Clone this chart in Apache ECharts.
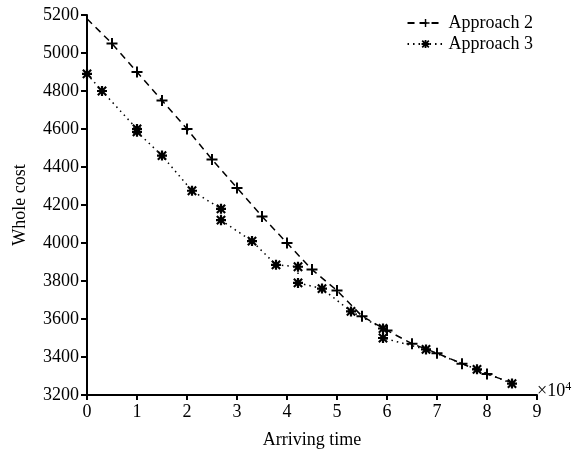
<!DOCTYPE html>
<html>
<head>
<meta charset="utf-8">
<script src="https://cdn.jsdelivr.net/npm/echarts@6/dist/echarts.min.js"></script>
<style>
  html, body { margin: 0; padding: 0; background: #fff; }
  #chart { width: 574px; height: 455px; }
</style>
</head>
<body>
<div id="chart"></div>
<script>
// arriving time in units of 1e4
const approach2X = [0, 0.5, 1.0, 1.5, 2.0, 2.5, 3.0, 3.5, 4.0, 4.5, 5.0, 5.5, 6.0, 6.5, 7.0, 7.5, 8.0, 8.5];
const approach2Y = [5180, 5050, 4900, 4750, 4600, 4440, 4290, 4140, 4000, 3860, 3750, 3615, 3540, 3470, 3420, 3365, 3310, 3265];
const approach3X = [0, 0.3, 1.0, 1.0, 1.5, 2.1, 2.68, 2.68, 3.3, 3.78, 4.22, 4.22, 4.7, 5.28, 5.92, 5.92, 6.78, 7.8, 8.5];
const approach3Y = [4890, 4800, 4600, 4585, 4460, 4275, 4180, 4120, 4010, 3885, 3875, 3790, 3760, 3640, 3550, 3500, 3440, 3335, 3260];
const approach2Show = [false, true, true, true, true, true, true, true, true, true, true, true, true, true, true, true, true, false];

const xTicks = [0, 1, 2, 3, 4, 5, 6, 7, 8, 9];
const yTicks = [3200, 3400, 3600, 3800, 4000, 4200, 4400, 4600, 4800, 5000, 5200];

const PLUS = "path://M4.1,0h1.8v4.1h4.1v1.8h-4.1v4.1h-1.8v-4.1h-4.1v-1.8h4.1z";
// asterisk: four thick bars plus a solid centre
const STAR =
  "path://M3.9,0h2.2v10h-2.2zM0,3.9h10v2.2h-10zM1.6,0.1L9.9,8.4L8.4,9.9L0.1,1.6zM8.4,0.1L9.9,1.6L1.6,9.9L0.1,8.4zM2.8,2.8h4.4v4.4h-4.4z";

const FONT = "Liberation Serif";

const chart = echarts.init(document.getElementById("chart"), null, { renderer: "canvas" });

chart.setOption({
  animation: false,
  backgroundColor: "#fff",
  textStyle: { fontFamily: FONT, color: "#000" },
  grid: { left: 87, right: 37, top: 15, bottom: 60 },
  legend: {
    orient: "vertical",
    right: 36,
    top: 9,
    itemGap: 3,
    itemWidth: 36,
    itemHeight: 10,
    textStyle: { fontFamily: FONT, fontSize: 18, color: "#000" },
    data: ["Approach 2", "Approach 3"],
  },
  xAxis: {
    type: "value",
    min: xTicks[0],
    max: xTicks[xTicks.length - 1],
    interval: 1,
    name: "Arriving time",
    nameLocation: "middle",
    nameGap: 36,
    nameTextStyle: { fontFamily: FONT, fontSize: 18, color: "#000" },
    axisLine: { lineStyle: { color: "#000", width: 2 } },
    axisTick: { inside: false, length: 5, lineStyle: { color: "#000", width: 2 } },
    axisLabel: { fontFamily: FONT, fontSize: 18, color: "#000", margin: 8 },
    splitLine: { show: false },
  },
  yAxis: {
    type: "value",
    min: yTicks[0],
    max: yTicks[yTicks.length - 1],
    interval: 200,
    name: "Whole cost",
    nameLocation: "middle",
    nameGap: 58,
    nameTextStyle: { fontFamily: FONT, fontSize: 18, color: "#000" },
    axisLine: { show: true, lineStyle: { color: "#000", width: 2 } },
    axisTick: { show: true, inside: false, length: 6, lineStyle: { color: "#000", width: 2 } },
    axisLabel: { fontFamily: FONT, fontSize: 18, color: "#000", margin: 8, formatter: (v) => String(v) },
    splitLine: { show: false },
  },
  graphic: [
    {
      type: "text",
      left: 537,
      top: 381,
      style: {
        text: "×10{s|4}",
        fontFamily: FONT,
        fontSize: 18,
        fill: "#000",
        rich: { s: { fontFamily: FONT, fontSize: 12, fill: "#000", verticalAlign: "top", padding: [0, 0, 9, 0] } },
      },
    },
  ],
  series: [
    {
      name: "Approach 2",
      type: "line",
      data: approach2X.map((x, i) => ({
        value: [x, approach2Y[i]],
        symbol: approach2Show[i] ? PLUS : "none",
      })),
      symbol: PLUS,
      symbolSize: 11,
      showAllSymbol: true,
      itemStyle: { color: "#000" },
      lineStyle: { color: "#000", width: 1.5, type: [7, 5] },
      z: 3,
    },
    {
      name: "Approach 3",
      type: "line",
      data: approach3X.map((x, i) => [x, approach3Y[i]]),
      symbol: STAR,
      symbolSize: 10,
      showAllSymbol: true,
      itemStyle: { color: "#000" },
      lineStyle: { color: "#000", width: 1.5, type: [1.5, 4] },
      z: 4,
    },
  ],
});
</script>
</body>
</html>
